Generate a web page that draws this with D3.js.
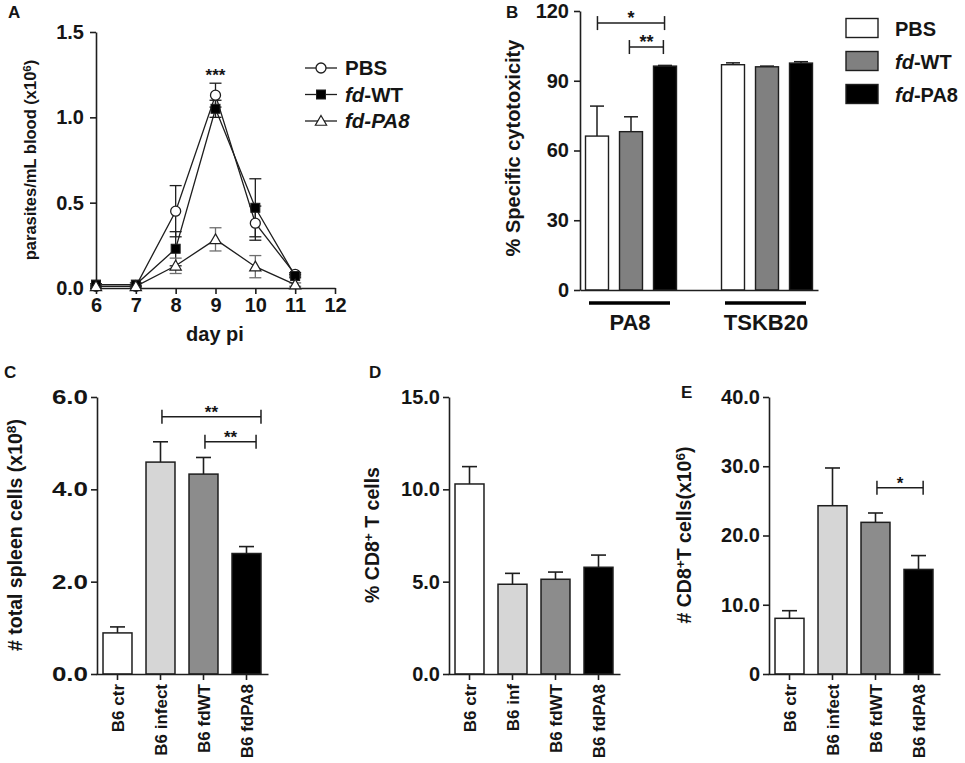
<!DOCTYPE html>
<html>
<head>
<meta charset="utf-8">
<script src="https://cdn.jsdelivr.net/npm/d3@7"></script>
<style>
body { margin: 0; background: #fff; }
svg text { font-family: "Liberation Sans", Arial, sans-serif; font-weight: bold; fill: #151515; }
</style>
</head>
<body>
<script>
// ---- panel A: parasitemia ----
const daysA = [6, 7, 8, 9, 10, 11];
const xTicksA = [6, 7, 8, 9, 10, 11, 12];
const yTicksA = [0, 0.5, 1.0, 1.5];
const pbsA = [0.01, 0.01, 0.45, 1.13, 0.38, 0.08];
const pbsErrA = [0.005, 0.005, 0.15, 0.07, 0.10, 0.01];
const fdWtA = [0.02, 0.02, 0.23, 1.05, 0.47, 0.07];
const fdWtErrA = [0.005, 0.01, 0.10, 0.05, 0.17, 0.01];
const fdPa8A = [0.01, 0.01, 0.13, 0.285, 0.125, 0.02];
const fdPa8ErrA = [0.005, 0.005, 0.045, 0.068, 0.065, 0.01];

// ---- panel B: cytotoxicity ----
const antigensB = ["PA8", "TSKB20"];
const groupsB = ["PBS", "fd-WT", "fd-PA8"];
const yTicksB = [0, 30, 60, 90, 120];
const pbsB = [66.2, 96.9];
const pbsErrB = [12.9, 0.8];
const fdWtB = [68.1, 96.0];
const fdWtErrB = [6.4, 0.3];
const fdPa8B = [96.3, 97.6];
const fdPa8ErrB = [0.3, 0.6];

// ---- panels C, D, E ----
const categoriesC = ["B6 ctr", "B6 infect", "B6 fdWT", "B6 fdPA8"];
const valuesC = [0.89, 4.59, 4.33, 2.61];
const errC = [0.13, 0.44, 0.36, 0.15];
const yTicksC = [0, 2, 4, 6];

const categoriesD = ["B6 ctr", "B6 inf", "B6 fdWT", "B6 fdPA8"];
const valuesD = [10.29, 4.86, 5.13, 5.78];
const errD = [0.94, 0.59, 0.39, 0.66];
const yTicksD = [0, 5, 10, 15];

const categoriesE = ["B6 ctr", "B6 infect", "B6 fdWT", "B6 fdPA8"];
const valuesE = [8.04, 24.3, 21.9, 15.1];
const errE = [1.1, 5.45, 1.35, 2.0];
const yTicksE = [0, 10, 20, 30, 40];

const barFills = ["#ffffff", "#d6d6d6", "#8c8c8c", "#000000"];
const groupFillsB = ["#ffffff", "#808080", "#000000"];
const INK = "#1e1e1e";

const svg = d3.select("body").append("svg")
    .attr("width", 965)
    .attr("height", 763);

drawPanelA();
drawPanelB();
drawBarPanel({
    cats: categoriesC, vals: valuesC, errs: errC, ticks: yTicksC, max: 6,
    x0: 96, fmt: d3.format(".1f"), tickStretch: 1.3, letter: "C", letterX: 4, letterY: 378,
    labelX: 22, label: [["# total spleen cells (x10", false], ["8", true], [")", false]],
    brackets: [
        { from: 1, f1: 0.55, to: 3, f2: 1.0, y: 5.57, text: "**" },
        { from: 2, f1: 0.55, to: 3, f2: 0.83, y: 5.03, text: "**" }
    ]
});
drawBarPanel({
    cats: categoriesD, vals: valuesD, errs: errD, ticks: yTicksD, max: 15,
    x0: 448, fmt: d3.format(".1f"), tickStretch: 1, letter: "D", letterX: 369, letterY: 378,
    labelX: 379, label: [["% CD8", false], ["+", true], [" T cells", false]],
    brackets: []
});
drawBarPanel({
    cats: categoriesE, vals: valuesE, errs: errE, ticks: yTicksE, max: 40,
    x0: 768, fmt: (d) => d === 0 ? "0" : d3.format(".1f")(d), tickStretch: 1, letter: "E", letterX: 681, letterY: 398,
    labelX: 691, label: [["# CD8", false], ["+", true], ["T cells(x10", false], ["6", true], [")", false]],
    brackets: [
        { from: 2, f1: 0.55, to: 3, f2: 0.66, y: 26.9, text: "*" }
    ]
});

function styleAxis(g) {
    g.selectAll("path, line").attr("stroke", INK).attr("stroke-width", 1.6);
}

function addRotatedLabel(x, y, parts, size) {
    const t = svg.append("text")
        .attr("transform", `translate(${x},${y}) rotate(-90)`)
        .attr("text-anchor", "middle")
        .attr("font-size", size);
    let raised = false;
    parts.forEach(([str, sup]) => {
        const sp = t.append("tspan").text(str);
        if (sup) {
            sp.attr("dy", "-0.45em").attr("font-size", size * 0.7);
            raised = true;
        } else if (raised) {
            sp.attr("dy", (size * 0.7 * 0.45) + "px");
            raised = false;
        }
    });
}

function drawBracket(x1, x2, y, text, fontSize) {
    const g = svg.append("g").attr("stroke", INK).attr("stroke-width", 1.5);
    g.append("line").attr("x1", x1).attr("x2", x2).attr("y1", y).attr("y2", y);
    g.append("line").attr("x1", x1).attr("x2", x1).attr("y1", y - 7).attr("y2", y + 7);
    g.append("line").attr("x1", x2).attr("x2", x2).attr("y1", y - 7).attr("y2", y + 7);
    svg.append("text")
        .attr("x", (x1 + x2) / 2)
        .attr("y", y + 1)
        .attr("text-anchor", "middle")
        .attr("font-size", fontSize)
        .text(text);
}

function drawPanelA() {
    const x = d3.scaleLinear().domain([6, 12]).range([96, 335]);
    const y = d3.scaleLinear().domain([0, 1.5]).range([288, 32]);

    const gx = svg.append("g").attr("transform", "translate(0,288)")
        .call(d3.axisBottom(x).tickValues(xTicksA).tickSize(6).tickSizeOuter(0).tickPadding(4).tickFormat(d3.format("d")));
    gx.selectAll("text").attr("font-size", 20).attr("fill", "#151515");
    styleAxis(gx);

    const gy = svg.append("g").attr("transform", "translate(96,0)")
        .call(d3.axisLeft(y).tickValues(yTicksA).tickSize(6).tickSizeOuter(0).tickPadding(6).tickFormat(d3.format(".1f")));
    gy.selectAll("text").attr("font-size", 20).attr("fill", "#151515");
    styleAxis(gy);

    svg.append("text").attr("x", 8).attr("y", 18).attr("font-size", 17).text("A");
    svg.append("text").attr("x", 215).attr("y", 341).attr("text-anchor", "middle")
        .attr("font-size", 20).text("day pi");
    addRotatedLabel(36, 160, [["parasites/mL blood  (x10", false], ["6", true], [")", false]], 16.5);

    const series = [
        { vals: pbsA, errs: pbsErrA, marker: "circle", errColor: INK },
        { vals: fdWtA, errs: fdWtErrA, marker: "square", errColor: INK },
        { vals: fdPa8A, errs: fdPa8ErrA, marker: "triangle", errColor: "#6e6e6e" }
    ];

    const line = d3.line().x((d) => x(d[0])).y((d) => y(d[1]));

    series.forEach((s) => {
        const pts = daysA.map((d, i) => [d, s.vals[i], s.errs[i]]);
        const eg = svg.append("g").attr("stroke", s.errColor).attr("stroke-width", 1.3);
        pts.forEach((p) => {
            const cx = x(p[0]);
            eg.append("line").attr("x1", cx).attr("x2", cx).attr("y1", y(p[1] - p[2])).attr("y2", y(p[1] + p[2]));
            eg.append("line").attr("x1", cx - 6).attr("x2", cx + 6).attr("y1", y(p[1] + p[2])).attr("y2", y(p[1] + p[2]));
            eg.append("line").attr("x1", cx - 6).attr("x2", cx + 6).attr("y1", y(p[1] - p[2])).attr("y2", y(p[1] - p[2]));
        });
        svg.append("path").datum(pts).attr("d", line)
            .attr("fill", "none").attr("stroke", INK).attr("stroke-width", 1.3);
    });

    series.forEach((s) => {
        daysA.forEach((d, i) => drawMarker(x(d), y(s.vals[i]), s.marker));
    });

    svg.append("text").attr("x", x(9)).attr("y", y(1.21)).attr("text-anchor", "middle")
        .attr("font-size", 17).text("***");

    // legend
    const legendA = [
        { marker: "circle", parts: [["PBS", false]] },
        { marker: "square", parts: [["fd", true], ["-WT", false]] },
        { marker: "triangle", parts: [["fd-PA8", true]] }
    ];
    legendA.forEach((item, i) => {
        const ly = 68 + i * 26.5;
        svg.append("line").attr("x1", 305).attr("x2", 337).attr("y1", ly).attr("y2", ly)
            .attr("stroke", INK).attr("stroke-width", 1.3);
        drawMarker(321, ly, item.marker);
        const t = svg.append("text").attr("x", 345).attr("y", ly + 7).attr("font-size", 20.5);
        item.parts.forEach(([str, it]) => {
            t.append("tspan").attr("font-style", it ? "italic" : "normal").text(str);
        });
    });
}

function drawMarker(cx, cy, kind) {
    if (kind === "circle") {
        svg.append("circle").attr("cx", cx).attr("cy", cy).attr("r", 5)
            .attr("fill", "#fff").attr("stroke", INK).attr("stroke-width", 1.3);
    } else if (kind === "square") {
        svg.append("rect").attr("x", cx - 4.5).attr("y", cy - 4.5).attr("width", 9).attr("height", 9)
            .attr("fill", "#000").attr("stroke", INK);
    } else {
        svg.append("path")
            .attr("d", d3.symbol().type(d3.symbolTriangle).size(55)())
            .attr("transform", `translate(${cx},${cy + 1})`)
            .attr("fill", "#fff").attr("stroke", INK).attr("stroke-width", 1.2);
    }
}

function drawPanelB() {
    const y = d3.scaleLinear().domain([0, 120]).range([290, 11]);
    const outer = d3.scaleBand().domain(antigensB).range([580, 818]).paddingInner(0.25).paddingOuter(0);
    const inner = d3.scaleBand().domain(groupsB).range([0, outer.bandwidth()]).paddingInner(0.324).paddingOuter(0.162);

    const valsByGroup = [pbsB, fdWtB, fdPa8B];
    const errsByGroup = [pbsErrB, fdWtErrB, fdPa8ErrB];

    antigensB.forEach((ag, ai) => {
        groupsB.forEach((gr, gi) => {
            const bx = outer(ag) + inner(gr);
            const v = valsByGroup[gi][ai];
            const e = errsByGroup[gi][ai];
            const cx = bx + inner.bandwidth() / 2;
            svg.append("line").attr("x1", cx).attr("x2", cx).attr("y1", y(v)).attr("y2", y(v + e))
                .attr("stroke", INK).attr("stroke-width", 1.5);
            svg.append("line").attr("x1", cx - 7).attr("x2", cx + 7).attr("y1", y(v + e)).attr("y2", y(v + e))
                .attr("stroke", INK).attr("stroke-width", 1.5);
            svg.append("rect").attr("x", bx).attr("y", y(v))
                .attr("width", inner.bandwidth()).attr("height", y(0) - y(v))
                .attr("fill", groupFillsB[gi]).attr("stroke", INK).attr("stroke-width", 1.4);
        });
        // group underline and label
        svg.append("line").attr("x1", outer(ag) + 9).attr("x2", outer(ag) + outer.bandwidth() - 12)
            .attr("y1", 303).attr("y2", 303).attr("stroke", "#000").attr("stroke-width", 3.5);
        svg.append("text").attr("x", outer(ag) + outer.bandwidth() / 2 - 1).attr("y", 330)
            .attr("text-anchor", "middle").attr("font-size", 22).text(ag);
    });

    const gx = svg.append("g").attr("transform", "translate(0,290)")
        .call(d3.axisBottom(outer).tickSize(0).tickSizeOuter(0).tickFormat(""));
    styleAxis(gx);

    const gy = svg.append("g").attr("transform", "translate(580,0)")
        .call(d3.axisLeft(y).tickValues(yTicksB).tickSize(6).tickSizeOuter(0).tickPadding(5).tickFormat(d3.format("d")));
    gy.selectAll("text").attr("font-size", 20).attr("fill", "#151515");
    styleAxis(gy);

    svg.append("text").attr("x", 506).attr("y", 18).attr("font-size", 17).text("B");
    addRotatedLabel(520, 148, [["% Specific cytotoxicity", false]], 20);

    const bPos = (ag, gr, f) => outer(ag) + inner(gr) + f * inner.bandwidth();
    drawBracket(bPos("PA8", "PBS", 0.52), bPos("PA8", "fd-PA8", 0.48), y(114.8), "*", 18);
    drawBracket(bPos("PA8", "fd-WT", 0.43), bPos("PA8", "fd-PA8", 0.43), y(104.5), "**", 18);

    // legend
    const legendB = [
        [["PBS", false]],
        [["fd", true], ["-WT", false]],
        [["fd", true], ["-PA8", false]]
    ];
    legendB.forEach((parts, i) => {
        const ly = 28 + i * 33;
        svg.append("rect").attr("x", 846).attr("y", ly - 9.5).attr("width", 32).attr("height", 19)
            .attr("fill", groupFillsB[i]).attr("stroke", INK).attr("stroke-width", 1.4);
        const t = svg.append("text").attr("x", 895).attr("y", ly + 7.5).attr("font-size", 20);
        parts.forEach(([str, it]) => {
            t.append("tspan").attr("font-style", it ? "italic" : "normal").text(str);
        });
    });
}

function drawBarPanel(cfg) {
    const y = d3.scaleLinear().domain([0, cfg.max]).range([674, 397]);
    const x = d3.scaleBand().domain(cfg.cats).range([cfg.x0, cfg.x0 + 172]).paddingInner(0.326).paddingOuter(0.163);

    cfg.cats.forEach((c, i) => {
        const v = cfg.vals[i];
        const e = cfg.errs[i];
        const cx = x(c) + x.bandwidth() / 2;
        svg.append("line").attr("x1", cx).attr("x2", cx).attr("y1", y(v)).attr("y2", y(v + e))
            .attr("stroke", INK).attr("stroke-width", 1.6);
        svg.append("line").attr("x1", cx - 7.5).attr("x2", cx + 7.5).attr("y1", y(v + e)).attr("y2", y(v + e))
            .attr("stroke", INK).attr("stroke-width", 1.6);
        svg.append("rect").attr("x", x(c)).attr("y", y(v))
            .attr("width", x.bandwidth()).attr("height", y(0) - y(v))
            .attr("fill", barFills[i]).attr("stroke", INK).attr("stroke-width", 1.5);
    });

    const gx = svg.append("g").attr("transform", "translate(0,674)")
        .call(d3.axisBottom(x).tickSize(6).tickSizeOuter(0));
    gx.selectAll("text")
        .attr("font-size", 17).attr("fill", "#151515")
        .attr("text-anchor", "end")
        .attr("transform", "rotate(-90)")
        .attr("x", -10).attr("y", 0).attr("dy", "0.36em");
    styleAxis(gx);

    const gy = svg.append("g").attr("transform", `translate(${cfg.x0 + 1},0)`)
        .call(d3.axisLeft(y).tickValues(cfg.ticks).tickSize(6).tickSizeOuter(0).tickPadding(3).tickFormat(cfg.fmt));
    gy.selectAll("text")
        .attr("font-size", 20).attr("fill", "#151515")
        .attr("x", -9 / cfg.tickStretch)
        .attr("transform", `scale(${cfg.tickStretch},1)`);
    styleAxis(gy);

    svg.append("text").attr("x", cfg.letterX).attr("y", cfg.letterY).attr("font-size", 17).text(cfg.letter);
    addRotatedLabel(cfg.labelX, 535, cfg.label, 19.5);

    cfg.brackets.forEach((b) => {
        const x1 = x(cfg.cats[b.from]) + b.f1 * x.bandwidth();
        const x2 = x(cfg.cats[b.to]) + b.f2 * x.bandwidth();
        drawBracket(x1, x2, y(b.y), b.text, 17);
    });
}
</script>
</body>
</html>
